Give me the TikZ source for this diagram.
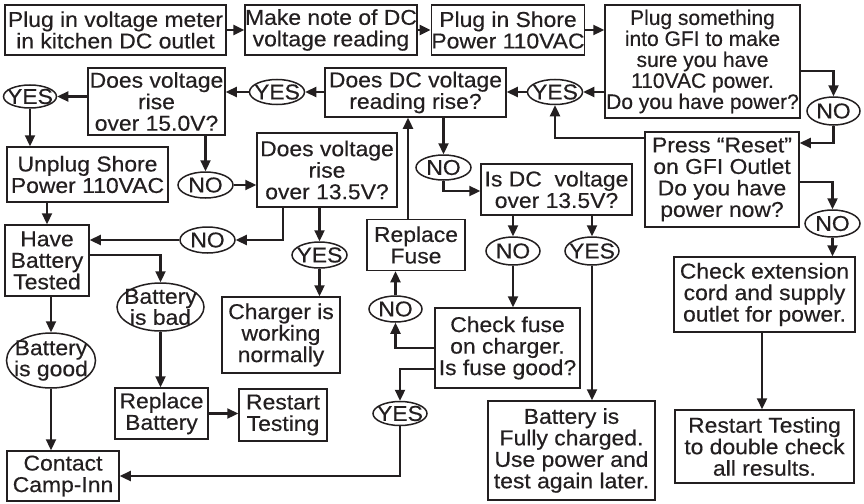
\documentclass[tikz,border=0pt]{standalone}
\usepackage{fontspec}
\setmainfont{Liberation Sans}[FakeStretch=1.065,FakeBold=0.4]
\newfontfamily\plainfam{Liberation Sans}[FakeStretch=1.0,FakeBold=0.4]
\usetikzlibrary{arrows.meta,shapes.geometric}
\definecolor{ink}{HTML}{231F20}
\begin{document}
\begin{tikzpicture}[x=1pt,y=-1pt,
  sz/.style 2 args={minimum width=#1pt, minimum height=#2pt},
  box/.style={draw=ink, line width=1.5pt, rectangle, align=center, inner sep=0pt,
    font=\fontsize{21.5}{21.5}\selectfont, text=ink},
  oval/.style={draw=ink, line width=1.5pt, ellipse, align=center, inner xsep=-14pt, inner ysep=-10pt,
    font=\fontsize{21.5}{18.5}\selectfont, text=ink},
  conn/.style={draw=ink, line width=2.3pt, -{Triangle[length=11pt,width=10pt]}}
]
\useasboundingbox (0,0) rectangle (864,503);
% boxes
\node[box,sz={221}{50}] (b1) at (115.5,30) {Plug in voltage meter\\in kitchen DC outlet};
\node[box,sz={164}{50}] (b2) at (331,30) {Make note of DC\\voltage reading};
\node[box,sz={150}{50}] (b3) at (508,30) {Plug in Shore\\Power 110VAC};
\node[box,sz={195}{113},font=\plainfam\fontsize{21}{21}\selectfont] (b4) at (702.5,61.5) {Plug something\\into GFI to make\\sure you have\\110VAC power.\\Do you have power?};
\node[box,sz={181}{49}] (b5) at (415.5,92.5) {Does DC voltage\\reading rise?};
\node[oval,sz={55}{25}] (y5) at (555,92) {YES};
\node[oval,sz={55}{25}] (y7) at (277,92) {YES};
\node[box,sz={137}{67}] (b8) at (156.5,101.5) {Does voltage\\rise\\over 15.0V?};
\node[oval,sz={53}{23}] (y9) at (30,96.5) {YES};
\node[box,sz={161}{55}] (b10) at (87.5,174.5) {Unplug Shore\\Power 110VAC};
\node[oval,sz={55}{26}] (n11) at (205.5,185) {NO};
\node[box,sz={140}{74}] (b12) at (327,170) {Does voltage\\rise\\over 13.5V?};
\node[oval,sz={55}{26}] (n13) at (207.5,240) {NO};
\node[box,sz={84}{71}] (b14) at (47,260.5) {Have\\Battery\\Tested};
\node[oval,sz={55}{26}] (y15) at (319.5,255) {YES};
\node[box,sz={118}{76}] (b16) at (281,335) {Charger is\\working\\normally};
\node[oval,sz={87}{48}] (e17) at (160.5,307) {Battery\\is bad};
\node[oval,sz={89}{55}] (e18) at (51,360.5) {Battery\\is good};
\node[box,sz={112}{50}] (b19) at (63,476) {Contact\\Camp-Inn};
\node[box,sz={93}{51}] (b20) at (161.5,413.5) {Replace\\Battery};
\node[box,sz={88}{52}] (b21) at (283,415) {Restart\\Testing};
\node[oval,sz={54}{24}] (y22) at (400,413.5) {YES};
\node[oval,sz={53}{26}] (n23) at (395.5,309) {NO};
\node[box,sz={98}{51}] (b24) at (416,245) {Replace\\Fuse};
\node[oval,sz={55}{25}] (n24) at (443.5,167.5) {NO};
\node[box,sz={151}{51}] (b25) at (556.5,189.5) {Is DC\ \ voltage\\over 13.5V?};
\node[oval,sz={54}{28}] (n26) at (513,251) {NO};
\node[oval,sz={54}{28}] (y27) at (592,251) {YES};
\node[box,sz={145}{80}] (b28) at (507.5,348) {Check fuse\\on charger.\\Is fuse good?};
\node[box,sz={167}{99}] (b29) at (571.5,450.5) {Battery is\\Fully charged.\\Use power and\\test again later.};
\node[box,sz={154}{95}] (b30) at (722,179.5) {Press “Reset”\\on GFI Outlet\\Do you have\\power now?};
\node[oval,sz={53}{28}] (n31) at (833.5,111) {NO};
\node[oval,sz={55}{27}] (n32) at (832.5,223.5) {NO};
\node[box,sz={181}{75}] (b33) at (764.5,294.5) {Check extension\\cord and supply\\outlet for power.};
\node[box,sz={179}{73}] (b34) at (764.5,446.5) {Restart Testing\\to double check\\all results.};
% connectors
\draw[conn] (b1.east) -- (b2.west);
\draw[conn] (b2.east) -- (b3.west);
\draw[conn] (b3.east) -- (b3.east -| b4.west);
\draw[conn] (b4.west |- y5.east) -- (y5.east);
\draw[conn] (y5.west) -- (y5.west -| b5.east);
\draw[conn] (b5.west |- y7.east) -- (y7.east);
\draw[conn] (y7.west) -- (y7.west -| b8.east);
\draw[conn] (b8.west |- y9.east) -- (y9.east);
\draw[conn] (y9.south) -- (y9.south |- b10.north);
\draw[conn] (b8.south -| n11.north) -- (n11.north);
\draw[conn] (n11.east) -- (n11.east -| b12.west);
\draw[conn] ([xshift=-44pt]b12.south) |- (n13.east);
\draw[conn] (n13.west) -- (n13.west -| b14.east);
\draw[conn] (b12.south -| y15.north) -- (y15.north);
\draw[conn] (y15.south) -- (y15.south |- b16.north);
\draw[conn] (b10.south -| b14.north) -- (b14.north);
\draw[conn] ([yshift=5.5pt]b14.east) -| (e17.north);
\draw[conn] (b14.south -| e18.north) -- (e18.north);
\draw[conn] (e18.south) -- (e18.south |- b19.north);
\draw[conn] (e17.south) -- (e17.south |- b20.north);
\draw[conn] (b20.east) -- (b20.east -| b21.west);
\draw[conn] (b28.west) -| (n23.south);
\draw[conn] (n23.north) -- (n23.north |- b24.south);
\draw[conn] ([xshift=-8pt]b24.north) -- ([xshift=-8pt]b24.north |- b5.south);
\draw[conn] ([yshift=-21pt]b28.west) -| (y22.north);
\draw[conn] (y22.south) |- (b19.east);
\draw[conn] (b5.south -| n24.north) -- (n24.north);
\draw[conn] (n24.south) |- ([yshift=-1.5pt]b25.west);
\draw[conn] (b25.south -| n26.north) -- (n26.north);
\draw[conn] (n26.south) -- (n26.south |- b28.north);
\draw[conn] (b25.south -| y27.north) -- (y27.north);
\draw[conn] (y27.south) -- (y27.south |- b29.north);
\draw[conn] ([yshift=-9.5pt]b4.east) -| (n31.north);
\draw[conn] (n31.south) |- ([yshift=36.5pt]b30.east);
\draw[conn] ([yshift=41.5pt]b30.west) -| (y5.south);
\draw[conn] ([yshift=-2.5pt]b30.east) -| (n32.north);
\draw[conn] (n32.south) -- (n32.south |- b33.north);
\draw[conn] ([xshift=-2.5pt]b33.south) -- ([xshift=-2.5pt]b33.south |- b34.north);
\end{tikzpicture}
\end{document}
